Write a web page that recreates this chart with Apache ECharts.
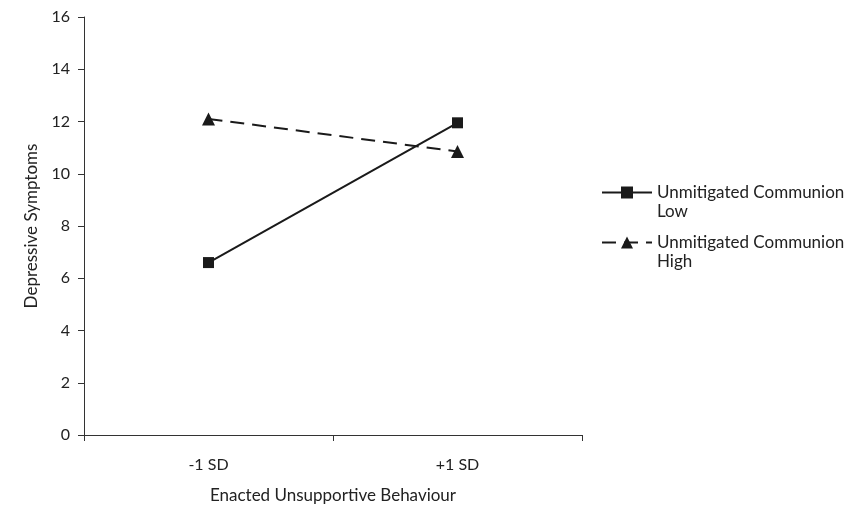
<!DOCTYPE html>
<html>
<head>
<meta charset="utf-8">
<script src="https://cdn.jsdelivr.net/npm/echarts@6/dist/echarts.min.js"></script>
<style>
  html, body { margin: 0; padding: 0; background: #fff; }
  #chart { width: 859px; height: 509px; }
</style>
</head>
<body>
<div id="chart"></div>
<script>
const categories = ["-1 SD", "+1 SD"];
const lowValues = [6.6, 11.95];
const highValues = [12.1, 10.85];
const yTicks = { min: 0, max: 16, interval: 2 };
const legendNames = ["Unmitigated Communion Low", "Unmitigated Communion High"];

const font = "Lato, 'Open Sans', sans-serif";
const ink = "#222";

const chart = echarts.init(document.getElementById("chart"));
chart.setOption({
  animation: false,
  textStyle: { fontFamily: font, color: ink },
  grid: { left: 84, right: 277, top: 17, bottom: 74 },
  legend: {
    orient: "vertical",
    left: 596,
    top: 159,
    itemWidth: 50,
    itemHeight: 15,
    itemGap: -7,
    textStyle: { fontSize: 17, color: ink, lineHeight: 19, fontFamily: font },
    // blank first line keeps the icon level with the first text line
    formatter: (name) => " \n" + name.replace("Communion ", "Communion\n"),
    data: legendNames
  },
  xAxis: {
    type: "category",
    data: categories,
    boundaryGap: true,
    name: "Enacted Unsupportive Behaviour",
    nameLocation: "middle",
    nameGap: 52,
    nameTextStyle: { fontSize: 17, color: ink },
    axisLine: { lineStyle: { color: "#333", width: 1 } },
    axisTick: { show: true, length: 6, alignWithLabel: false, lineStyle: { color: "#333" } },
    axisLabel: { fontSize: 16, color: ink, margin: 22 },
    splitLine: { show: false }
  },
  yAxis: {
    type: "value",
    min: yTicks.min,
    max: yTicks.max,
    interval: yTicks.interval,
    name: "Depressive Symptoms",
    nameLocation: "middle",
    nameGap: 44,
    nameTextStyle: { fontSize: 17, color: ink },
    axisLine: { show: true, lineStyle: { color: "#333", width: 1 } },
    axisTick: { show: true, length: 6, lineStyle: { color: "#333" } },
    axisLabel: { fontSize: 16, color: ink, margin: 14 },
    splitLine: { show: false }
  },
  series: [
    {
      name: legendNames[0],
      type: "line",
      data: lowValues,
      symbol: "rect",
      symbolSize: 11,
      lineStyle: { color: "#1a1a1a", width: 2, type: "solid" },
      itemStyle: { color: "#1a1a1a" }
    },
    {
      name: legendNames[1],
      type: "line",
      data: highValues,
      symbol: "triangle",
      symbolSize: 13,
      lineStyle: { color: "#1a1a1a", width: 2, type: [14, 8] },
      itemStyle: { color: "#1a1a1a" }
    }
  ]
});
</script>
</body>
</html>
